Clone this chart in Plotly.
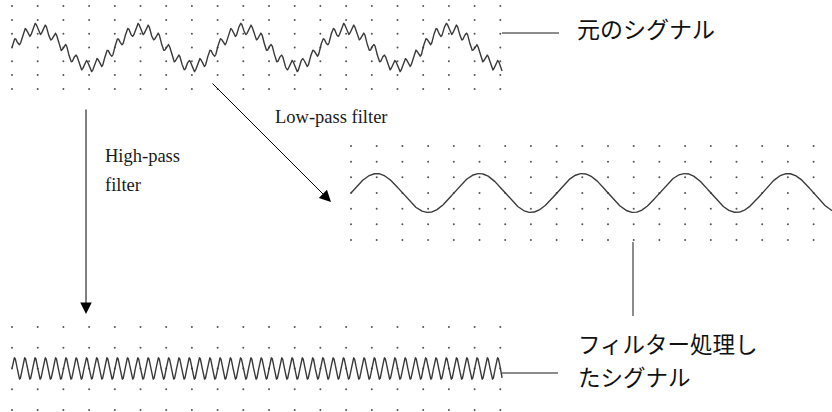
import numpy as np
import plotly.graph_objects as go

W, H = 832, 412

# ---- data (signal description, in grid units: 1 column = quarter of the slow period) ----
panel_names = ["original", "low-pass", "high-pass"]
slow_period_cols = 4.0          # slow wave: one cycle every 4 grid columns
fast_to_slow_ratio = 10         # fast ripple: 10 cycles per slow cycle
original_slow_amp = 1.36        # in grid rows of the top panel
original_fast_amp = 0.40
lowpass_amp = 1.24              # in grid rows of the middle panel
highpass_amp = 0.51             # in grid rows of the bottom panel
original_span_cols = 19.07
lowpass_span_cols = 19.0
highpass_span_cols = 19.07
grid_cols_top = list(range(0, 20))
grid_cols_mid = list(range(0, 19))
grid_cols_bot = list(range(0, 20))
grid_rows_top = [-3, -2, -1, 0, 1, 2, 3]
grid_rows_mid = [-3, -2, -1, 0, 1, 2, 3]
grid_rows_bot = [-2, -1, 0, 1, 2]

label_original = "元のシグナル"
label_filtered = ["フィルター処理し", "たシグナル"]
label_low = "Low-pass filter"
label_high = ["High-pass", "filter"]

# ---- layout geometry (pixels) ----
COL_PX = 25.7
top_x0, mid_x0 = 12.0, 351.0
top_c, top_s = 47.5, 13.8
mid_c, mid_s = 193.0, 15.67
bot_c, bot_s = 368.5, 20.75


def xr(x0):
    return [-x0 / COL_PX, (W - x0) / COL_PX]


def yr(c, s):
    return [-(H - c) / s, c / s]


def px(x):
    return x / W


def py(y):
    return 1 - y / H


def slow(t):
    return np.sin(2 * np.pi * t / slow_period_cols)


def fast(t):
    return np.sin(2 * np.pi * fast_to_slow_ratio * t / slow_period_cols)


t_top = np.linspace(0, original_span_cols, 4000)
y_top = original_slow_amp * slow(t_top) + original_fast_amp * fast(t_top)
t_mid = np.linspace(0, lowpass_span_cols, 1500)
y_mid = lowpass_amp * slow(t_mid)
t_bot = np.linspace(0, highpass_span_cols, 4000)
y_bot = highpass_amp * fast(t_bot)

fig = go.Figure()

dot_style = dict(mode="markers", marker=dict(size=2, color="#555555"),
                 hoverinfo="skip", showlegend=False)


def grid(cols, rows, xa, ya):
    gx = [c for r in rows for c in cols]
    gy = [r for r in rows for c in cols]
    fig.add_trace(go.Scatter(x=gx, y=gy, xaxis=xa, yaxis=ya, **dot_style))


grid(grid_cols_top, grid_rows_top, "x", "y")
grid(grid_cols_mid, grid_rows_mid, "x2", "y2")
grid(grid_cols_bot, grid_rows_bot, "x", "y3")

line_style = dict(mode="lines", line=dict(color="#3a3a3a", width=1.4),
                  hoverinfo="skip", showlegend=False)
fig.add_trace(go.Scatter(x=t_top, y=y_top, xaxis="x", yaxis="y", **line_style))
fig.add_trace(go.Scatter(x=t_mid, y=y_mid, xaxis="x2", yaxis="y2", **line_style))
fig.add_trace(go.Scatter(x=t_bot, y=y_bot, xaxis="x", yaxis="y3", **line_style))

ax_common = dict(visible=False, showgrid=False, zeroline=False, fixedrange=True)
fig.update_layout(
    width=W, height=H, autosize=False,
    margin=dict(l=0, r=0, t=0, b=0),
    paper_bgcolor="white", plot_bgcolor="white",
    xaxis=dict(range=xr(top_x0), domain=[0, 1], anchor="y", **ax_common),
    xaxis2=dict(range=xr(mid_x0), domain=[0, 1], anchor="y2", overlaying="x", **ax_common),
    yaxis=dict(range=yr(top_c, top_s), domain=[0, 1], anchor="x", **ax_common),
    yaxis2=dict(range=yr(mid_c, mid_s), domain=[0, 1], anchor="x2", overlaying="y", **ax_common),
    yaxis3=dict(range=yr(bot_c, bot_s), domain=[0, 1], anchor="x", overlaying="y", **ax_common),
    showlegend=False,
    hovermode=False,
)

# leader lines
lead = dict(color="#666666", width=1.5)
fig.add_shape(type="line", xref="paper", yref="paper",
              x0=px(502), x1=px(559), y0=py(33), y1=py(33), line=lead)
fig.add_shape(type="line", xref="paper", yref="paper",
              x0=px(502), x1=px(558), y0=py(373), y1=py(373), line=lead)
fig.add_shape(type="line", xref="paper", yref="paper",
              x0=px(633), x1=px(633), y0=py(242), y1=py(316), line=lead)

# arrows
arrow_style = dict(showarrow=True, arrowhead=2, arrowsize=2.3, arrowwidth=1,
                   arrowcolor="black", text="", xref="paper", yref="paper",
                   axref="pixel", ayref="pixel", standoff=0, startstandoff=0)
fig.add_annotation(x=px(86), y=py(314), ax=0, ay=-(314 - 108), **arrow_style)
fig.add_annotation(x=px(331), y=py(202), ax=-(331 - 211), ay=-(202 - 82), **arrow_style)

# text labels
jp = dict(family="Noto Sans CJK JP", size=23, color="#111111")
jp2 = dict(family="Noto Sans CJK JP", size=22.5, color="#111111")
serif = dict(family="Liberation Serif", size=18.5, color="#1a1a1a")
txt = dict(showarrow=False, xref="paper", yref="paper", xanchor="left",
           yanchor="middle", borderpad=0)
fig.add_annotation(text=label_original, x=px(576), y=py(28), font=jp, **txt)
fig.add_annotation(text=label_filtered[0], x=px(577), y=py(343), font=jp2, **txt)
fig.add_annotation(text=label_filtered[1], x=px(577), y=py(376), font=jp2, **txt)
fig.add_annotation(text=label_low, x=px(274), y=py(117), font=serif, **txt)
fig.add_annotation(text=label_high[0], x=px(104), y=py(156), font=serif, **txt)
fig.add_annotation(text=label_high[1], x=px(104), y=py(185), font=serif, **txt)

fig.write_html("out.html",
               config={"displayModeBar": False, "staticPlot": True},
               post_script="document.body.style.margin='0';document.body.style.padding='0';")
